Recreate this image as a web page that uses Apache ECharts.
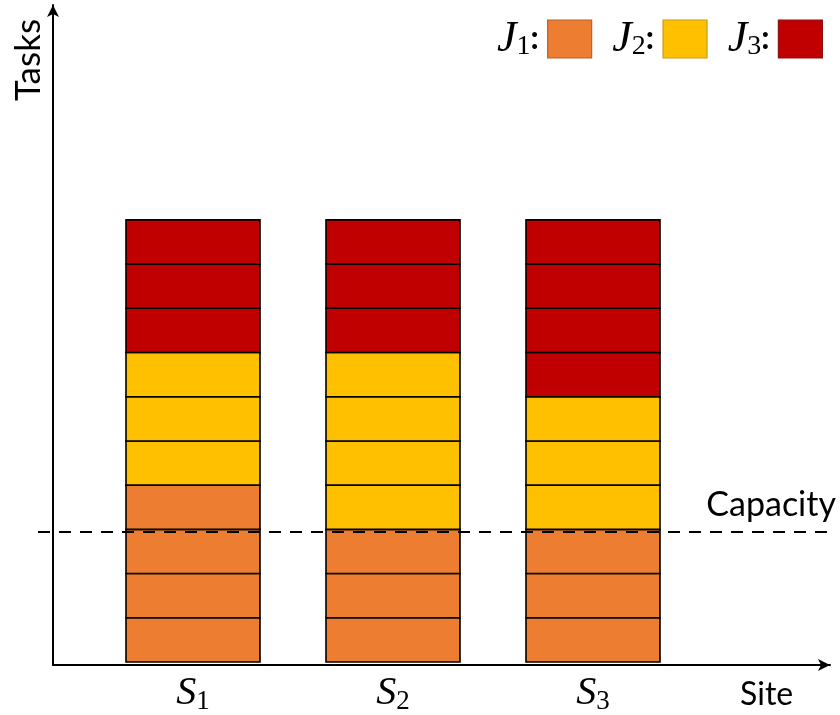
<!DOCTYPE html>
<html>
<head>
<meta charset="utf-8">
<script src="https://cdn.jsdelivr.net/npm/echarts@6/dist/echarts.min.js"></script>
<style>html,body{margin:0;padding:0;background:#fff}#c{width:840px;height:715px}</style>
</head>
<body>
<div id="c"></div>
<script>
const sites = ['1', '2', '3'];
const jobs = ['1', '2', '3'];
const j1Blocks = [4, 3, 3];
const j2Blocks = [3, 4, 3];
const j3Blocks = [3, 3, 4];
const capacity = 3;
const jobColors = ['#ED7D31', '#FFC000', '#C00000'];
const legendBorders = ['#B8612A', '#C99A1A', '#8E1010'];

const blocks = [j1Blocks, j2Blocks, j3Blocks];
const chart = echarts.init(document.getElementById('c'));

const YMAX = 14.86;
const serif = 'Liberation Serif';
const sans = 'Lato';

const customSeries = jobs.map((j, k) => {
  const data = sites.map((s, i) => {
    let base = 0;
    for (let m = 0; m < k; m++) base += blocks[m][i];
    return [i, base, blocks[k][i]];
  });
  return {
    type: 'custom',
    name: 'J' + j,
    xAxisIndex: 1,
    yAxisIndex: 1,
    itemStyle: { color: jobColors[k] },
    encode: { x: 0, y: 1 },
    data: data,
    renderItem: function (params, api) {
      const x = api.value(0), start = api.value(1), n = api.value(2);
      const w = api.size([1, 0])[0] * 0.67;
      const children = [];
      for (let b = 0; b < n; b++) {
        const p0 = api.coord([x, start + b]);
        const p1 = api.coord([x, start + b + 1]);
        children.push({
          type: 'rect',
          shape: { x: p0[0] - w / 2, y: p1[1], width: w, height: p0[1] - p1[1] },
          style: { fill: jobColors[k], stroke: '#000', lineWidth: 1.6 }
        });
      }
      return { type: 'group', children: children };
    }
  };
});

const option = {
  animation: false,
  backgroundColor: '#fff',
  grid: [
    { left: 53, right: 10, top: 5, bottom: 50 },
    { left: 93, width: 600, top: 5, bottom: 50 },
    { left: 38, right: 10, top: 5, bottom: 50 }
  ],
  xAxis: [
    {
      type: 'value', gridIndex: 0, min: 0, max: 1,
      axisLine: { show: true, lineStyle: { color: '#000', width: 2 }, symbol: ['none', 'arrow'], symbolSize: [9, 12] },
      axisTick: { show: false }, axisLabel: { show: false }, splitLine: { show: false },
      name: 'Site', nameLocation: 'end', nameGap: -90,
      nameTextStyle: { fontFamily: sans, fontSize: 32, color: '#000', verticalAlign: 'top', padding: [14, 0, 0, 0] }
    },
    {
      type: 'category', gridIndex: 1, data: sites,
      axisLine: { show: false }, axisTick: { show: false }, splitLine: { show: false },
      axisLabel: {
        margin: 10,
        formatter: function (v) { return '{s|S}{b|' + v + '}'; },
        rich: {
          s: { fontFamily: serif, fontStyle: 'italic', fontSize: 40, color: '#000' },
          b: { fontFamily: serif, fontSize: 27, color: '#000', verticalAlign: 'bottom', padding: [16, 0, 0, 0] }
        }
      }
    },
    {
      type: 'value', gridIndex: 2, min: 0, max: 1, show: false, splitLine: { show: false }
    }
  ],
  yAxis: [
    {
      type: 'value', gridIndex: 0, min: 0, max: YMAX,
      axisLine: { show: true, lineStyle: { color: '#000', width: 2 }, symbol: ['none', 'arrow'], symbolSize: [9, 12] },
      axisTick: { show: false }, axisLabel: { show: false }, splitLine: { show: false }
    },
    {
      type: 'value', gridIndex: 1, min: 0, max: YMAX, show: false,
      splitLine: { show: false }
    },
    {
      type: 'value', gridIndex: 2, min: 0, max: YMAX, show: false,
      splitLine: { show: false }
    }
  ],
  legend: {
    right: 12, top: 12,
    align: 'right',
    itemWidth: 44, itemHeight: 38, itemGap: 20,
    selectedMode: false,
    data: jobs.map((j, k) => ({
      name: 'J' + j, icon: 'rect',
      itemStyle: { color: jobColors[k], borderColor: legendBorders[k], borderWidth: 1.2 }
    })),
    formatter: function (name) { return '{j|J}{n|' + name.slice(1) + '}{c|:}'; },
    textStyle: {
      rich: {
        j: { fontFamily: serif, fontStyle: 'italic', fontSize: 44, color: '#000' },
        n: { fontFamily: serif, fontSize: 28, color: '#000', verticalAlign: 'bottom', padding: [16, 0, 0, 0] },
        c: { fontFamily: sans, fontSize: 32, fontWeight: 'bold', color: '#000', padding: [0, 4, 0, 0] }
      }
    }
  },
  graphic: [
    {
      type: 'text', x: 29, y: 60, rotation: Math.PI / 2,
      style: { text: 'Tasks', font: '35px Lato', fill: '#000', align: 'center', verticalAlign: 'middle' }
    }
  ],
  series: [
    ...customSeries,
    {
      type: 'line', name: 'capacity', xAxisIndex: 2, yAxisIndex: 2, data: [],
      markLine: {
        silent: true, symbol: 'none',
        lineStyle: { color: '#000', width: 2, type: [12, 9] },
        label: {
          show: true, position: 'insideEndTop', formatter: 'Capacity',
          fontFamily: sans, fontSize: 34, color: '#000', distance: [-6, 10]
        },
        data: [[{ coord: [0, capacity] }, { coord: [1, capacity] }]]
      }
    }
  ]
};
chart.setOption(option);
</script>
</body>
</html>
